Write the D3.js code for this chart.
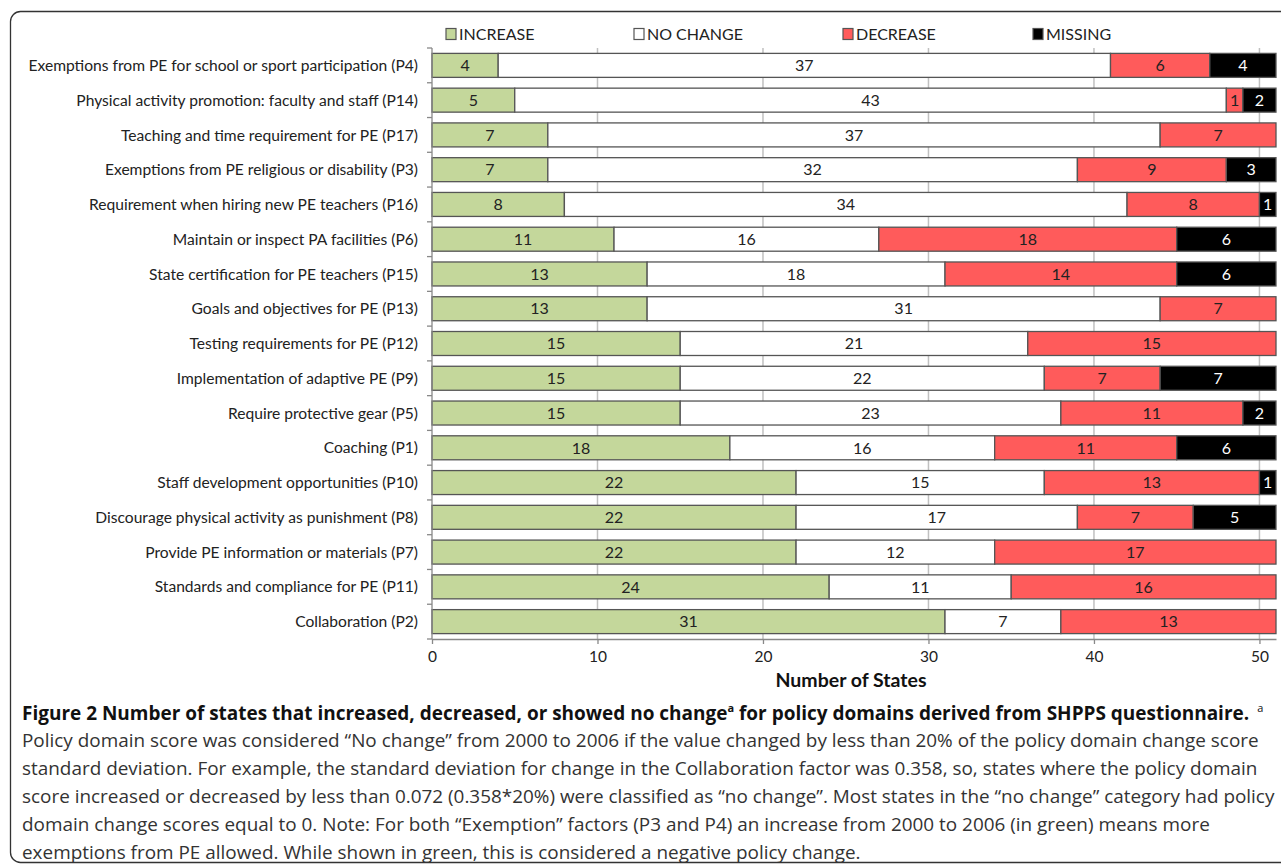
<!DOCTYPE html>
<html><head><meta charset="utf-8">
<script src="https://cdn.jsdelivr.net/npm/d3@7"></script>
<style>body{margin:0;background:#fff;}svg{display:block;}</style>
</head><body><svg id="c" width="1281" height="864"></svg>
<script>
const categories = [
 "Exemptions from PE for school or sport participation (P4)",
 "Physical activity promotion: faculty and staff (P14)",
 "Teaching and time requirement for PE (P17)",
 "Exemptions from PE religious or disability (P3)",
 "Requirement when hiring new PE teachers (P16)",
 "Maintain or inspect PA facilities (P6)",
 "State certification for PE teachers (P15)",
 "Goals and objectives for PE (P13)",
 "Testing requirements for PE (P12)",
 "Implementation of adaptive PE (P9)",
 "Require protective gear (P5)",
 "Coaching (P1)",
 "Staff development opportunities (P10)",
 "Discourage physical activity as punishment (P8)",
 "Provide PE information or materials (P7)",
 "Standards and compliance for PE (P11)",
 "Collaboration (P2)"
];
const increase = [4,5,7,7,8,11,13,13,15,15,15,18,22,22,22,24,31];
const noChange = [37,43,37,32,34,16,18,31,21,22,23,16,15,17,12,11,7];
const decrease = [6,1,7,9,8,18,14,7,15,7,11,11,13,7,17,16,13];
const missing  = [4,2,0,3,1,6,6,0,0,7,2,6,1,5,0,0,0];
const seriesNames = ["INCREASE","NO CHANGE","DECREASE","MISSING"];
const xTicks = [0,10,20,30,40,50];
const axisTitle = "Number of States";
const captionBold = "Figure 2 Number of states that increased, decreased, or showed no change";
const captionBold2 = " for policy domains derived from SHPPS questionnaire.";
const captionLines = [
 "Policy domain score was considered \u201cNo change\u201d from 2000 to 2006 if the value changed by less than 20% of the policy domain change score",
 "standard deviation. For example, the standard deviation for change in the Collaboration factor was 0.358, so, states where the policy domain",
 "score increased or decreased by less than 0.072 (0.358*20%) were classified as \u201cno change\u201d. Most states in the \u201cno change\u201d category had policy",
 "domain change scores equal to 0. Note: For both \u201cExemption\u201d factors (P3 and P4) an increase from 2000 to 2006 (in green) means more",
 "exemptions from PE allowed. While shown in green, this is considered a negative policy change."
];

(function(){
const colors = ["#c4d79b","#ffffff","#ff5b5b","#000000"];
const textColors = ["#222","#222","#222","#fff"];
const font = "Lato, 'Open Sans', sans-serif";
const capFont = "'Open Sans', Lato, sans-serif";

const svg = d3.select("#c");
svg.append("rect").attr("x",10.5).attr("y",11.5).attr("width",1290).attr("height",851)
  .attr("rx",10).attr("fill","none").attr("stroke","#333").attr("stroke-width",1.3);

const pl = 432, pr = 1276, pt = 48, pb = 639;
const x = d3.scaleLinear().domain([0,51]).range([pl,pr]);
const y = d3.scaleBand().domain(categories).range([pt,pb]).paddingInner(0.31).paddingOuter(0.155);

svg.append("g").selectAll("line").data(xTicks.filter(d=>d>0)).join("line")
  .attr("x1",d=>x(d)).attr("x2",d=>x(d)).attr("y1",pt).attr("y2",pb)
  .attr("stroke","#c0c0c0").attr("stroke-width",1.5);

const data = categories.map((c,i)=>({cat:c, vals:[increase[i],noChange[i],decrease[i],missing[i]]}));
const stack = d3.stack().keys([0,1,2,3]).value((d,k)=>d.vals[k])(data);

const g = svg.append("g");
stack.forEach((layer,k)=>{
  const lg = g.append("g");
  const f = layer.filter(d=>d[1]-d[0]>0);
  lg.selectAll("rect").data(f).join("rect")
    .attr("x",d=>x(d[0])).attr("width",d=>x(d[1])-x(d[0]))
    .attr("y",d=>y(d.data.cat)).attr("height",y.bandwidth())
    .attr("fill",colors[k]).attr("stroke","#555").attr("stroke-width",1.3);
  lg.selectAll("text").data(f).join("text")
    .attr("x",d=>(x(d[0])+x(d[1]))/2).attr("y",d=>y(d.data.cat)+y.bandwidth()/2)
    .attr("dy","0.36em").attr("text-anchor","middle")
    .attr("font-family",font).attr("font-size",16).attr("fill",textColors[k])
    .text(d=>d[1]-d[0]);
});

const ya = svg.append("g");
ya.append("line").attr("x1",pl).attr("x2",pl).attr("y1",pt).attr("y2",pb).attr("stroke","#888").attr("stroke-width",1.3);
ya.selectAll("line.t").data(d3.range(categories.length+1)).join("line").attr("class","t")
  .attr("x1",pl-5).attr("x2",pl).attr("y1",i=>pt+i*(pb-pt)/categories.length).attr("y2",i=>pt+i*(pb-pt)/categories.length)
  .attr("stroke","#888").attr("stroke-width",1.3);
ya.selectAll("text").data(categories).join("text")
  .attr("x",pl-14).attr("y",d=>y(d)+y.bandwidth()/2).attr("dy","0.36em")
  .attr("text-anchor","end").attr("font-family",font).attr("font-size",15.6).attr("fill","#222").text(d=>d);

const xa = svg.append("g").attr("transform",`translate(0,${pb})`)
  .call(d3.axisBottom(x).tickValues(xTicks).tickSize(5).tickSizeOuter(0));
xa.select(".domain").attr("stroke","#888").attr("stroke-width",1.3);
xa.selectAll(".tick line").attr("stroke","#888").attr("stroke-width",1.3);
xa.selectAll(".tick text").attr("font-family",font).attr("font-size",15.5).attr("fill","#222").attr("dy","0.95em");

svg.append("text").attr("x",851).attr("y",687).attr("text-anchor","middle")
  .attr("font-family",font).attr("font-size",19.5).attr("font-weight","bold").attr("fill","#111").text(axisTitle);

const legX = [446,634,843,1033];
const leg = svg.append("g");
seriesNames.forEach((n,k)=>{
  leg.append("rect").attr("x",legX[k]).attr("y",28.5).attr("width",10).attr("height",11)
    .attr("fill",colors[k]).attr("stroke","#555").attr("stroke-width",1.2);
  leg.append("text").attr("x",legX[k]+13).attr("y",34).attr("dy","0.36em")
    .attr("font-family",font).attr("font-size",16).attr("fill","#222").text(n);
});

// caption, sized to fit the reference line widths
const cap = svg.append("text").attr("x",22).attr("y",720).attr("font-family",capFont).attr("font-size",18).attr("font-weight","bold").attr("fill","#111");
cap.append("tspan").text(captionBold);
cap.append("tspan").attr("font-size",11).attr("dy",-8).text("a");
cap.append("tspan").attr("dy",8).text(captionBold2);
cap.append("tspan").attr("font-size",11).attr("font-weight","normal").attr("dy",-8).attr("dx",8).text("a");
let w = cap.node().getComputedTextLength();
cap.attr("font-size", 18*1235/w);

const reg = svg.append("g").selectAll("text").data(captionLines).join("text")
  .attr("x",22).attr("y",(d,i)=>747+i*28).attr("font-family",capFont).attr("font-size",17).attr("fill","#333").text(d=>d);
const w1 = reg.nodes()[0].getComputedTextLength();
reg.attr("font-size", 17*1238/w1);
})();
</script></body></html>
